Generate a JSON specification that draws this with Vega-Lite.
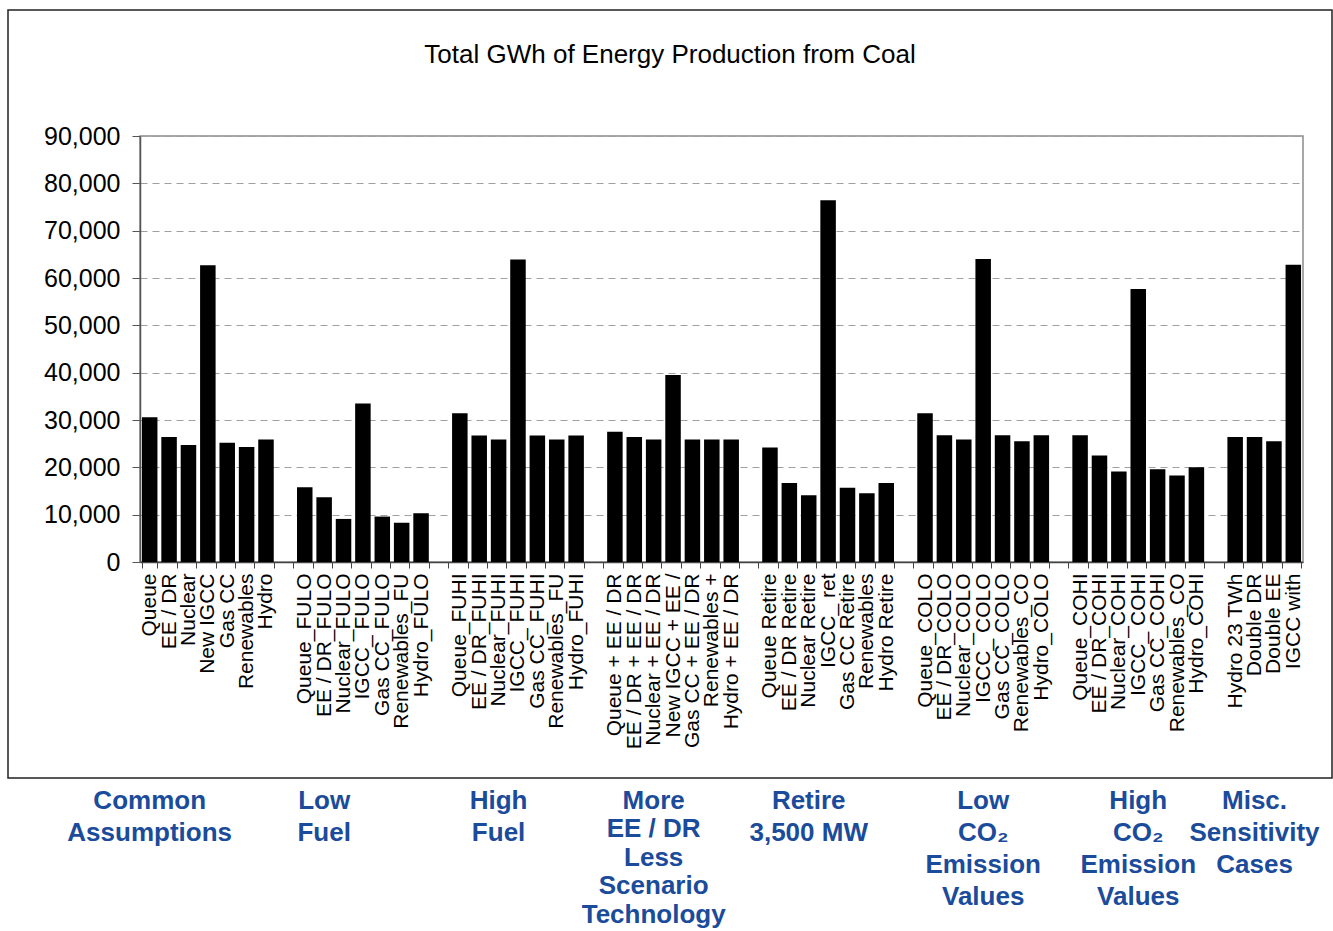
{
  "$schema": "https://vega.github.io/schema/vega-lite/v6.json",
  "padding": {"left": 6, "top": 8, "right": 0, "bottom": 0},
  "background": "white",
  "spacing": 7,
  "config": {"font": "Liberation Sans", "view": {"stroke": null}},
  "vconcat": [
    {
      "width": 1163,
      "height": 426,
      "view": {"stroke": "#8c8c8c", "strokeWidth": 1.5},
      "title": {
        "text": "Total GWh of Energy Production from Coal",
        "anchor": "middle",
        "frame": "bounds",
        "font": "Liberation Sans",
        "fontSize": 26,
        "fontWeight": "normal",
        "color": "#000000",
        "baseline": "alphabetic",
        "offset": -80
      },
      "layer": [
        {
          "data": {"values": [{}]},
          "mark": {"type": "rect", "filled": false, "stroke": "#222222", "strokeWidth": 1.5},
          "encoding": {
            "x": {"value": -132},
            "x2": {"value": 1192},
            "y": {"value": -126},
            "y2": {"value": 642}
          }
        },
        {
          "data": {
            "values": [
              {"case": "A1|Queue", "gwh": 30600},
              {"case": "A2|EE / DR", "gwh": 26400},
              {"case": "A3|Nuclear", "gwh": 24700},
              {"case": "A4|New IGCC", "gwh": 62700},
              {"case": "A5|Gas CC", "gwh": 25200},
              {"case": "A6|Renewables", "gwh": 24300},
              {"case": "A7|Hydro", "gwh": 25900},
              {"case": "B1|Queue_FULO", "gwh": 15800},
              {"case": "B2|EE / DR_FULO", "gwh": 13700},
              {"case": "B3|Nuclear_FULO", "gwh": 9100},
              {"case": "B4|IGCC_ FULO", "gwh": 33500},
              {"case": "B5|Gas CC_FULO", "gwh": 9600},
              {"case": "B6|Renewables_FU", "gwh": 8300},
              {"case": "B7|Hydro_FULO", "gwh": 10300},
              {"case": "C1|Queue_FUHI", "gwh": 31400},
              {"case": "C2|EE / DR_FUHI", "gwh": 26700},
              {"case": "C3|Nuclear_FUHI", "gwh": 25900},
              {"case": "C4|IGCC_ FUHI", "gwh": 63900},
              {"case": "C5|Gas CC_FUHI", "gwh": 26700},
              {"case": "C6|Renewables_FU", "gwh": 25900},
              {"case": "C7|Hydro_FUHI", "gwh": 26700},
              {"case": "D1|Queue + EE / DR", "gwh": 27500},
              {"case": "D2|EE / DR + EE / DR", "gwh": 26400},
              {"case": "D3|Nuclear + EE / DR", "gwh": 25900},
              {"case": "D4|New IGCC + EE /", "gwh": 39500},
              {"case": "D5|Gas CC + EE / DR", "gwh": 25900},
              {"case": "D6|Renewables +", "gwh": 25900},
              {"case": "D7|Hydro + EE / DR", "gwh": 25900},
              {"case": "E1|Queue Retire", "gwh": 24200},
              {"case": "E2|EE / DR Retire", "gwh": 16700},
              {"case": "E3|Nuclear Retire", "gwh": 14100},
              {"case": "E4|IGCC_ ret", "gwh": 76400},
              {"case": "E5|Gas CC Retire", "gwh": 15700},
              {"case": "E6|Renewables", "gwh": 14500},
              {"case": "E7|Hydro Retire", "gwh": 16700},
              {"case": "F1|Queue_COLO", "gwh": 31400},
              {"case": "F2|EE / DR_COLO", "gwh": 26800},
              {"case": "F3|Nuclear_COLO", "gwh": 25900},
              {"case": "F4|IGCC_ COLO", "gwh": 64000},
              {"case": "F5|Gas CC_COLO", "gwh": 26800},
              {"case": "F6|Renewables_CO", "gwh": 25500},
              {"case": "F7|Hydro_COLO", "gwh": 26800},
              {"case": "G1|Queue_COHI", "gwh": 26800},
              {"case": "G2|EE / DR_COHI", "gwh": 22500},
              {"case": "G3|Nuclear_COHI", "gwh": 19100},
              {"case": "G4|IGCC_ COHI", "gwh": 57700},
              {"case": "G5|Gas CC_COHI", "gwh": 19600},
              {"case": "G6|Renewables_CO", "gwh": 18300},
              {"case": "G7|Hydro_COHI", "gwh": 20000},
              {"case": "H1|Hydro 23 TWh", "gwh": 26400},
              {"case": "H2|Double DR", "gwh": 26400},
              {"case": "H3|Double EE", "gwh": 25500},
              {"case": "H4|IGCC with", "gwh": 62800}
            ]
          },
          "mark": {"type": "bar", "color": "#000000"},
          "encoding": {
            "x": {
              "field": "case",
              "type": "nominal",
              "sort": null,
              "scale": {
                "domain": ["A1|Queue","A2|EE / DR","A3|Nuclear","A4|New IGCC","A5|Gas CC","A6|Renewables","A7|Hydro","A8|",
                  "B1|Queue_FULO","B2|EE / DR_FULO","B3|Nuclear_FULO","B4|IGCC_ FULO","B5|Gas CC_FULO","B6|Renewables_FU","B7|Hydro_FULO","B8|",
                  "C1|Queue_FUHI","C2|EE / DR_FUHI","C3|Nuclear_FUHI","C4|IGCC_ FUHI","C5|Gas CC_FUHI","C6|Renewables_FU","C7|Hydro_FUHI","C8|",
                  "D1|Queue + EE / DR","D2|EE / DR + EE / DR","D3|Nuclear + EE / DR","D4|New IGCC + EE /","D5|Gas CC + EE / DR","D6|Renewables +","D7|Hydro + EE / DR","D8|",
                  "E1|Queue Retire","E2|EE / DR Retire","E3|Nuclear Retire","E4|IGCC_ ret","E5|Gas CC Retire","E6|Renewables","E7|Hydro Retire","E8|",
                  "F1|Queue_COLO","F2|EE / DR_COLO","F3|Nuclear_COLO","F4|IGCC_ COLO","F5|Gas CC_COLO","F6|Renewables_CO","F7|Hydro_COLO","F8|",
                  "G1|Queue_COHI","G2|EE / DR_COHI","G3|Nuclear_COHI","G4|IGCC_ COHI","G5|Gas CC_COHI","G6|Renewables_CO","G7|Hydro_COHI","G8|",
                  "H1|Hydro 23 TWh","H2|Double DR","H3|Double EE","H4|IGCC with"],
                "paddingInner": 0.2,
                "paddingOuter": 0.1
              },
              "axis": {
                "title": null,
                "labelAngle": 270,
                "labelExpr": "split(datum.value, '|')[1]",
                "labelFont": "Liberation Sans",
                "labelFontSize": 21,
                "labelColor": "#000000",
                "labelPadding": 5,
                "labelLimit": 400,
                "labelOverlap": false,
                "tickSize": 6,
                "tickBand": "extent",
                "tickColor": "#444444",
                "domainColor": "#444444",
                "domainWidth": 1.5,
                "grid": false
              }
            },
            "y": {
              "field": "gwh",
              "type": "quantitative",
              "scale": {"domain": [0, 90000], "nice": false},
              "axis": {
                "title": null,
                "values": [0, 10000, 20000, 30000, 40000, 50000, 60000, 70000, 80000, 90000],
                "format": ",d",
                "labelFont": "Liberation Sans",
                "labelFontSize": 25,
                "labelColor": "#000000",
                "labelPadding": 12,
                "tickSize": 8,
                "tickColor": "#555555",
                "domainColor": "#555555",
                "domainWidth": 1.5,
                "gridColor": "#a0a0a0",
                "gridDash": [7, 5],
                "gridWidth": 1.2
              }
            }
          }
        }
      ]
    },
    {
      "width": 1163,
      "height": 1,
      "view": {"stroke": null},
      "layer": [
        {
          "data": {
            "values": [
              {"case": "A1|Queue", "group": "Common\nAssumptions"},
              {"case": "B2|EE / DR_FULO", "group": "Low\nFuel"},
              {"case": "C3|Nuclear_FUHI", "group": "High\nFuel"},
              {"case": "E3|Nuclear Retire", "group": "Retire\n3,500 MW"},
              {"case": "F4|IGCC_ COLO", "group": "Low\nCO₂\nEmission\nValues"},
              {"case": "G4|IGCC_ COHI", "group": "High\nCO₂\nEmission\nValues"},
              {"case": "H2|Double DR", "group": "Misc.\nSensitivity\nCases"}
            ]
          },
          "mark": {"type": "text", "lineBreak": "\n", "lineHeight": 32, "baseline": "top", "align": "center", "font": "Liberation Sans", "fontSize": 26, "fontWeight": "bold", "color": "#1B4B9B"},
          "encoding": {
            "x": {
              "field": "case",
              "type": "nominal",
              "sort": null,
              "scale": {
                "domain": ["A1|Queue","A2|EE / DR","A3|Nuclear","A4|New IGCC","A5|Gas CC","A6|Renewables","A7|Hydro","A8|",
                  "B1|Queue_FULO","B2|EE / DR_FULO","B3|Nuclear_FULO","B4|IGCC_ FULO","B5|Gas CC_FULO","B6|Renewables_FU","B7|Hydro_FULO","B8|",
                  "C1|Queue_FUHI","C2|EE / DR_FUHI","C3|Nuclear_FUHI","C4|IGCC_ FUHI","C5|Gas CC_FUHI","C6|Renewables_FU","C7|Hydro_FUHI","C8|",
                  "D1|Queue + EE / DR","D2|EE / DR + EE / DR","D3|Nuclear + EE / DR","D4|New IGCC + EE /","D5|Gas CC + EE / DR","D6|Renewables +","D7|Hydro + EE / DR","D8|",
                  "E1|Queue Retire","E2|EE / DR Retire","E3|Nuclear Retire","E4|IGCC_ ret","E5|Gas CC Retire","E6|Renewables","E7|Hydro Retire","E8|",
                  "F1|Queue_COLO","F2|EE / DR_COLO","F3|Nuclear_COLO","F4|IGCC_ COLO","F5|Gas CC_COLO","F6|Renewables_CO","F7|Hydro_COLO","F8|",
                  "G1|Queue_COHI","G2|EE / DR_COHI","G3|Nuclear_COHI","G4|IGCC_ COHI","G5|Gas CC_COHI","G6|Renewables_CO","G7|Hydro_COHI","G8|",
                  "H1|Hydro 23 TWh","H2|Double DR","H3|Double EE","H4|IGCC with"],
                "paddingInner": 0.2,
                "paddingOuter": 0.1
              },
              "axis": null
            },
            "text": {"field": "group", "type": "nominal"}
          }
        },
        {
          "data": {
            "values": [
              {"case": "D3|Nuclear + EE / DR", "group": "More\nEE / DR\nLess\nScenario\nTechnology"}
            ]
          },
          "mark": {"type": "text", "lineBreak": "\n", "lineHeight": 28.5, "baseline": "top", "align": "center", "font": "Liberation Sans", "fontSize": 26, "fontWeight": "bold", "color": "#1B4B9B"},
          "encoding": {
            "x": {"field": "case", "type": "nominal", "sort": null, "axis": null},
            "text": {"field": "group", "type": "nominal"}
          }
        }
      ]
    }
  ]
}
